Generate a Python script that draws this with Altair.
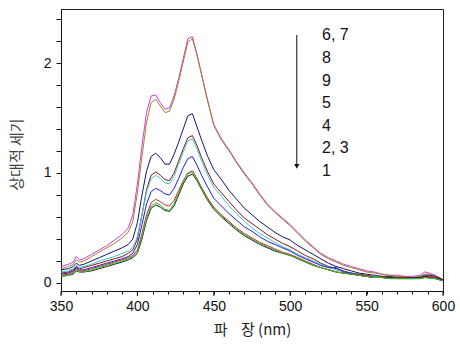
import altair as alt
import pandas as pd

wavelength = [350, 355, 358, 360, 362, 365, 370, 375, 380, 385,
              390, 394, 397, 400, 403, 406, 409, 412, 415, 418,
              421, 424, 427, 430, 433, 436, 439, 442, 446, 450,
              455, 460, 465, 470, 475, 480, 485, 490, 495, 500,
              505, 510, 515, 520, 525, 530, 535, 540, 545, 550,
              555, 560, 565, 570, 575, 580, 585, 588, 591, 595, 600]

s6 = [0.15, 0.17, 0.19, 0.24, 0.21, 0.22, 0.26, 0.30, 0.34, 0.39,
      0.44, 0.50, 0.62, 0.90, 1.25, 1.55, 1.70, 1.71, 1.64, 1.58,
      1.59, 1.70, 1.86, 2.04, 2.22, 2.24, 2.08, 1.90, 1.66, 1.44,
      1.31, 1.21, 1.10, 1.00, 0.91, 0.81, 0.72, 0.65, 0.59, 0.53,
      0.46, 0.39, 0.33, 0.27, 0.23, 0.20, 0.17, 0.15, 0.13, 0.11,
      0.10, 0.08, 0.07, 0.07, 0.06, 0.06, 0.07, 0.10, 0.09, 0.07, 0.03]
s7 = [0.13, 0.15, 0.17, 0.21, 0.19, 0.20, 0.24, 0.28, 0.32, 0.36,
      0.41, 0.46, 0.56, 0.82, 1.15, 1.46, 1.64, 1.67, 1.61, 1.55,
      1.56, 1.67, 1.83, 2.01, 2.19, 2.22, 2.07, 1.89, 1.65, 1.43,
      1.30, 1.20, 1.09, 0.99, 0.90, 0.80, 0.71, 0.64, 0.58, 0.52,
      0.45, 0.38, 0.32, 0.26, 0.22, 0.19, 0.16, 0.14, 0.12, 0.10,
      0.09, 0.08, 0.07, 0.06, 0.06, 0.05, 0.06, 0.08, 0.08, 0.06, 0.03]
s8 = [0.12, 0.13, 0.15, 0.18, 0.16, 0.17, 0.20, 0.23, 0.26, 0.29,
      0.32, 0.35, 0.40, 0.55, 0.80, 1.02, 1.15, 1.18, 1.14, 1.08,
      1.08, 1.17, 1.28, 1.40, 1.52, 1.54, 1.42, 1.30, 1.15, 1.03,
      0.94, 0.84, 0.76, 0.68, 0.62, 0.56, 0.51, 0.46, 0.42, 0.39,
      0.34, 0.30, 0.26, 0.22, 0.18, 0.15, 0.13, 0.11, 0.09, 0.08,
      0.07, 0.06, 0.06, 0.05, 0.05, 0.05, 0.05, 0.07, 0.07, 0.06, 0.03]
s9 = [0.09, 0.10, 0.12, 0.15, 0.13, 0.14, 0.16, 0.18, 0.20, 0.22,
      0.24, 0.27, 0.30, 0.40, 0.62, 0.85, 0.98, 1.01, 0.98, 0.94,
      0.93, 1.00, 1.11, 1.22, 1.32, 1.34, 1.25, 1.14, 1.01, 0.90,
      0.82, 0.74, 0.66, 0.59, 0.54, 0.49, 0.44, 0.40, 0.36, 0.33,
      0.29, 0.25, 0.22, 0.18, 0.15, 0.13, 0.11, 0.09, 0.08, 0.07,
      0.06, 0.06, 0.05, 0.05, 0.05, 0.04, 0.05, 0.06, 0.06, 0.05, 0.03]
s5 = [0.10, 0.11, 0.13, 0.16, 0.14, 0.15, 0.17, 0.20, 0.22, 0.24,
      0.27, 0.29, 0.32, 0.42, 0.62, 0.83, 0.95, 0.98, 0.95, 0.91,
      0.90, 0.97, 1.08, 1.19, 1.29, 1.31, 1.22, 1.11, 0.98, 0.87,
      0.79, 0.70, 0.63, 0.56, 0.50, 0.45, 0.41, 0.37, 0.33, 0.30,
      0.26, 0.23, 0.20, 0.17, 0.14, 0.12, 0.10, 0.09, 0.07, 0.06,
      0.06, 0.05, 0.05, 0.04, 0.04, 0.04, 0.04, 0.05, 0.05, 0.04, 0.02]
s4 = [0.08, 0.09, 0.11, 0.14, 0.12, 0.12, 0.14, 0.16, 0.18, 0.20,
      0.22, 0.24, 0.27, 0.35, 0.53, 0.72, 0.83, 0.86, 0.84, 0.81,
      0.80, 0.86, 0.95, 1.05, 1.13, 1.15, 1.07, 0.98, 0.87, 0.77,
      0.70, 0.63, 0.57, 0.51, 0.47, 0.42, 0.38, 0.35, 0.32, 0.29,
      0.25, 0.22, 0.19, 0.16, 0.14, 0.14, 0.10, 0.09, 0.07, 0.06,
      0.05, 0.05, 0.04, 0.04, 0.04, 0.04, 0.04, 0.05, 0.05, 0.04, 0.02]
s2 = [0.07, 0.08, 0.10, 0.13, 0.11, 0.11, 0.13, 0.15, 0.17, 0.19,
      0.21, 0.23, 0.25, 0.30, 0.45, 0.62, 0.73, 0.76, 0.74, 0.71,
      0.70, 0.75, 0.84, 0.93, 1.00, 1.02, 0.95, 0.87, 0.77, 0.69,
      0.62, 0.56, 0.50, 0.45, 0.41, 0.37, 0.34, 0.31, 0.28, 0.26,
      0.23, 0.20, 0.17, 0.14, 0.12, 0.10, 0.09, 0.08, 0.07, 0.06,
      0.05, 0.05, 0.04, 0.04, 0.04, 0.04, 0.04, 0.05, 0.05, 0.04, 0.02]
s3 = [0.06, 0.07, 0.09, 0.12, 0.10, 0.10, 0.12, 0.14, 0.16, 0.18,
      0.20, 0.22, 0.24, 0.28, 0.42, 0.59, 0.70, 0.73, 0.71, 0.67,
      0.66, 0.72, 0.82, 0.92, 0.99, 1.01, 0.94, 0.86, 0.76, 0.68,
      0.61, 0.55, 0.49, 0.44, 0.40, 0.36, 0.33, 0.30, 0.27, 0.25,
      0.22, 0.19, 0.16, 0.14, 0.12, 0.10, 0.09, 0.08, 0.07, 0.06,
      0.05, 0.05, 0.04, 0.04, 0.04, 0.04, 0.04, 0.05, 0.04, 0.04, 0.02]
s1 = [0.06, 0.07, 0.08, 0.11, 0.10, 0.10, 0.11, 0.13, 0.15, 0.17,
      0.19, 0.21, 0.23, 0.27, 0.40, 0.57, 0.68, 0.71, 0.69, 0.66,
      0.65, 0.70, 0.80, 0.90, 0.97, 0.99, 0.93, 0.85, 0.75, 0.67,
      0.60, 0.54, 0.48, 0.43, 0.39, 0.35, 0.32, 0.29, 0.27, 0.25,
      0.22, 0.19, 0.16, 0.14, 0.12, 0.10, 0.09, 0.08, 0.07, 0.06,
      0.05, 0.05, 0.05, 0.04, 0.04, 0.04, 0.05, 0.06, 0.05, 0.04, 0.03]

# drawing order (first drawn at the back)
series_names = ["6", "7", "8", "9", "5", "4", "1", "2", "3"]
series_values = [s6, s7, s8, s9, s5, s4, s1, s2, s3]
series_colors = ["#d23cd2", "#a08232", "#14146e", "#8c1414", "#3cc8d2",
                 "#1e1ed2", "#202020", "#d22828", "#28c028"]

label_texts = ["6, 7", "8", "9", "5", "4", "2, 3", "1"]
label_y = [2.255, 2.045, 1.836, 1.636, 1.427, 1.227, 1.018]
label_x = 520.8
arrow_x = 504.3
arrow_top = 2.255
arrow_tip = 1.06

x_major = list(range(350, 601, 50))
x_all = list(range(350, 601, 10))
y_ticks = [round(i * 0.2, 1) for i in range(13)]

XMIN, XMAX = 350, 600
YMIN, YMAX = -0.073, 2.491
PLOT_W, PLOT_H = 382, 282

X_TITLE = "파\u00a0\u00a0\u00a0\u00a0장 (nm)"
Y_TITLE = "상대적 세기"

xscale = alt.Scale(domain=[XMIN, XMAX], nice=False, zero=False)
yscale = alt.Scale(domain=[YMIN, YMAX], nice=False, zero=False)

common = dict(
    labelFont="Liberation Sans",
    labelFontSize=14,
    labelColor="#111",
    labelFlush=False,
    grid=False,
    domainColor="#111",
    domainWidth=1,
    titleFont="Noto Sans CJK KR",
    titleFontSize=15,
    titleFontWeight="normal",
)

x_axis = alt.Axis(
    values=x_all,
    labelExpr="datum.value % 50 == 0 ? datum.label : ''",
    ticks=True,
    tickSize=3,
    tickColor="#111",
    tickWidth=1,
    titleColor="#222",
    titleX=191,
    titleY=31,
    titleBaseline="top",
    labelPadding=5,
    **common,
)
y_axis = alt.Axis(
    values=y_ticks,
    labelExpr="abs(datum.value - round(datum.value)) < 0.001 ? format(datum.value, 'd') : ''",
    ticks=True,
    tickSize=5,
    tickColor="#111",
    tickWidth=1,
    titleColor="#444",
    titleX=-37,
    titleY=145,
    titleAngle=270,
    labelPadding=5,
    **common,
)


def X(field):
    return alt.X(field, scale=xscale, axis=x_axis, title=X_TITLE)


def Y(field):
    return alt.Y(field, scale=yscale, axis=y_axis, title=Y_TITLE)


layers = []
for name, vals, col in zip(series_names, series_values, series_colors):
    df = pd.DataFrame({"wl": wavelength, "v": vals, "s": name})
    layers.append(
        alt.Chart(df).mark_line(color=col, strokeWidth=1).encode(
            x=X("wl:Q"), y=Y("v:Q")
        )
    )

# longer major ticks on the wavelength axis
xmaj_df = pd.DataFrame({"wl": x_major})
xmaj_ticks = alt.Chart(xmaj_df).mark_rule(color="#111", strokeWidth=1).encode(
    x=X("wl:Q"), y=alt.value(PLOT_H), y2=alt.value(PLOT_H + 5)
)

arrow_df = pd.DataFrame({"wl": [arrow_x], "v": [arrow_top], "v2": [arrow_tip]})
arrow_line = alt.Chart(arrow_df).mark_rule(color="#111", strokeWidth=1).encode(
    x=X("wl:Q"), y=Y("v:Q"), y2="v2:Q",
)
arrow_head = alt.Chart(arrow_df).mark_point(
    shape="triangle-down", filled=True, color="#111", size=28, opacity=1
).encode(x=X("wl:Q"), y=Y("v2:Q"))

lab_df = pd.DataFrame({"t": label_texts, "v": label_y, "wl": [label_x] * len(label_texts)})
labels = alt.Chart(lab_df).mark_text(
    align="left", baseline="middle", font="Liberation Sans", fontSize=16, color="#111"
).encode(x=X("wl:Q"), y=Y("v:Q"), text="t:N")

chart = alt.layer(
    *layers, xmaj_ticks, arrow_line, arrow_head, labels
).properties(
    width=PLOT_W,
    height=PLOT_H,
    autosize="none",
    padding={"left": 61, "top": 9, "right": 17, "bottom": 55},
    background="white",
).configure_view(stroke="#222", strokeWidth=1)

chart.save("out.html", embed_options={"renderer": "svg", "actions": False})
